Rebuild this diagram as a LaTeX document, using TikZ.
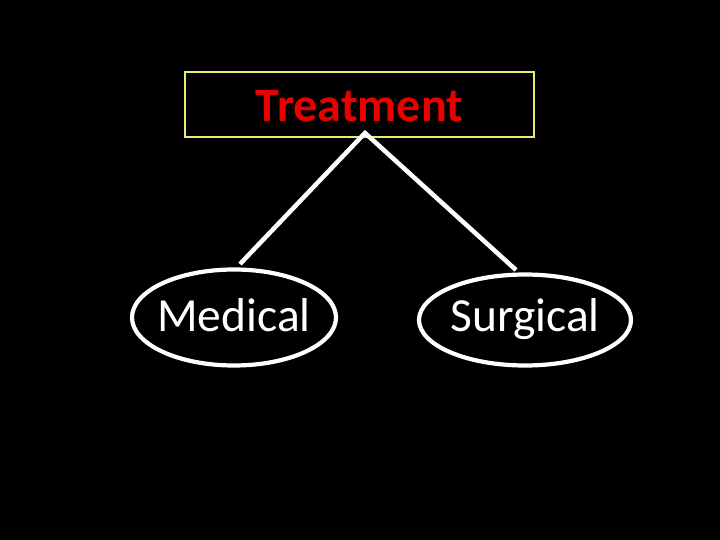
\documentclass[tikz,border=0pt]{standalone}
\usepackage{fontspec}
\setmainfont{Carlito}
\usetikzlibrary{shapes.geometric,positioning}
\definecolor{boxyellow}{RGB}{235,235,110}
\definecolor{titlered}{RGB}{235,0,0}

\begin{document}
\begin{tikzpicture}[
    x=1pt, y=-1pt,
    font=\fontsize{47.5}{56}\selectfont,
    topbox/.style={draw=boxyellow, line width=1.8pt, minimum width=349pt, minimum height=65pt, inner sep=0pt, text height=35pt, text depth=0pt, text=titlered, font=\fontsize{48}{56}\selectfont\bfseries},
    oval/.style={draw=white, ellipse, line width=4.2pt, inner xsep=-10pt, inner ysep=0pt, text depth=0pt, text=white},
    branch/.style={draw=white, line width=4.5pt, line join=miter}
]
\fill[black] (0,0) rectangle (720,540);
\useasboundingbox (0,0) rectangle (720,540);

\node[topbox] (treat) at (359.5,104.5) {Treatment};
\node[oval, minimum width=204pt, minimum height=96pt, text height=27pt] (med) at (234,317.5) {Medical};
\node[oval, minimum width=212pt, minimum height=91pt, text height=22pt] (surg) at (525,320) {Surgical};

\coordinate (apex) at (365,133);
\coordinate (medend) at (240,264);
\coordinate (surgend) at (516,270);

\draw[branch] (medend) -- (apex) -- (surgend);
\end{tikzpicture}
\end{document}
